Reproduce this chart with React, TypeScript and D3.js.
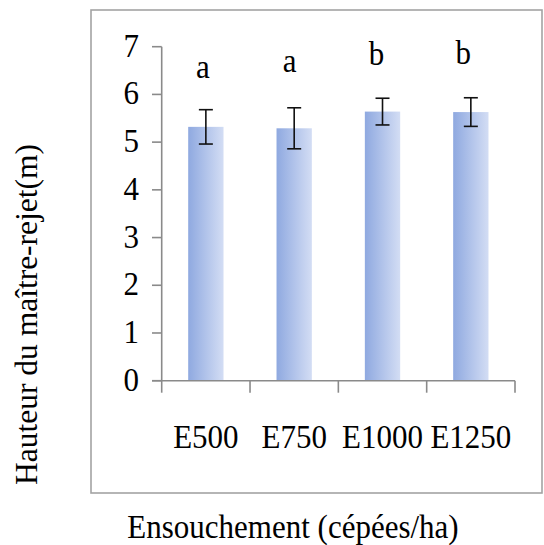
import React from "react";
import * as d3 from "d3";

const categories = ["E500", "E750", "E1000", "E1250"];
const means = [5.32, 5.29, 5.64, 5.63];
const errors = [0.36, 0.43, 0.28, 0.3];
const letters = ["a", "a", "b", "b"];
const letterLevels = [6.35, 6.48, 6.62, 6.64];
const yTicks = [0, 1, 2, 3, 4, 5, 6, 7];
const yTitle = "Hauteur du maître-rejet(m)";
const xTitle = "Ensouchement (cépées/ha)";

const W = 544;
const H = 545;
const AXIS = "#8a8a8a";
const SY = 1.1;
const FONT = "Times New Roman";

export default function App() {
  const x = d3
    .scaleBand()
    .domain(categories)
    .range([161.7, 515])
    .paddingInner(0.6)
    .paddingOuter(0.3);
  const y = d3.scaleLinear().domain([0, 7]).range([380.7, 46.7]);
  const bw = x.bandwidth();
  const step = x.step();
  const x0 = x.range()[0];
  const at = (px: number, py: number) => `translate(${px},${py}) scale(1,${SY})`;
  const ts = { fontFamily: FONT };

  return (
    <svg
      width={W}
      height={H}
      style={{ position: "absolute", left: 0, top: 0, fontFamily: FONT }}
    >
      <defs>
        <linearGradient id="barGrad" x1="0" y1="0" x2="1" y2="0">
          <stop offset="0%" stopColor="#8fa9e0" />
          <stop offset="100%" stopColor="#d3ddf4" />
        </linearGradient>
      </defs>
      <rect x={0} y={0} width={W} height={H} fill="#fff" />
      <rect x={91} y={10} width={451} height={483} fill="#fff" stroke="#a3a3a3" strokeWidth={1.6} />

      {categories.map((c, i) => (
        <rect
          key={c}
          x={x(c)}
          y={y(means[i])}
          width={bw}
          height={y(0) - y(means[i])}
          fill="url(#barGrad)"
        />
      ))}

      {categories.map((c, i) => {
        const cx = x(c) + bw / 2;
        const t = y(means[i] + errors[i]);
        const b = y(means[i] - errors[i]);
        return (
          <g key={c} stroke="#111" strokeWidth={1.6}>
            <line x1={cx} x2={cx} y1={t} y2={b} />
            <line x1={cx - 7} x2={cx + 7} y1={t} y2={t} />
            <line x1={cx - 7} x2={cx + 7} y1={b} y2={b} />
          </g>
        );
      })}

      {categories.map((c, i) => (
        <text
          key={c}
          style={ts}
          transform={at(x(c) + bw / 2 - 3 - i * 1.5, y(letterLevels[i]))}
          textAnchor="middle"
          fontSize={31}
          fill="#000"
        >
          {letters[i]}
        </text>
      ))}

      <line x1={161.7} x2={161.7} y1={y(7)} y2={y(0)} stroke={AXIS} strokeWidth={1.6} />
      {yTicks.map((t) => (
        <g key={t}>
          <line x1={152} x2={161.7} y1={y(t)} y2={y(t)} stroke={AXIS} strokeWidth={1.6} />
          <text style={ts} transform={at(139, y(t) + 10)} textAnchor="end" fontSize={31} fill="#000">
            {t}
          </text>
        </g>
      ))}

      <line x1={152} x2={515} y1={y(0)} y2={y(0)} stroke={AXIS} strokeWidth={1.6} />
      {d3.range(categories.length + 1).map((i) => (
        <line
          key={i}
          x1={x0 + i * step}
          x2={x0 + i * step}
          y1={y(0)}
          y2={y(0) + 12}
          stroke={AXIS}
          strokeWidth={1.6}
        />
      ))}
      {categories.map((c) => (
        <text key={c} style={ts} transform={at(x(c) + bw / 2, 448)} textAnchor="middle" fontSize={31} fill="#000">
          {c}
        </text>
      ))}

      <text style={ts} transform={at(293, 538)} textAnchor="middle" fontSize={31} fill="#000">
        {xTitle}
      </text>
      <text
        style={ts}
        transform="translate(37,314.5) rotate(-90)"
        textAnchor="middle"
        fontSize={31.5}
        fill="#000"
      >
        {yTitle}
      </text>
    </svg>
  );
}
